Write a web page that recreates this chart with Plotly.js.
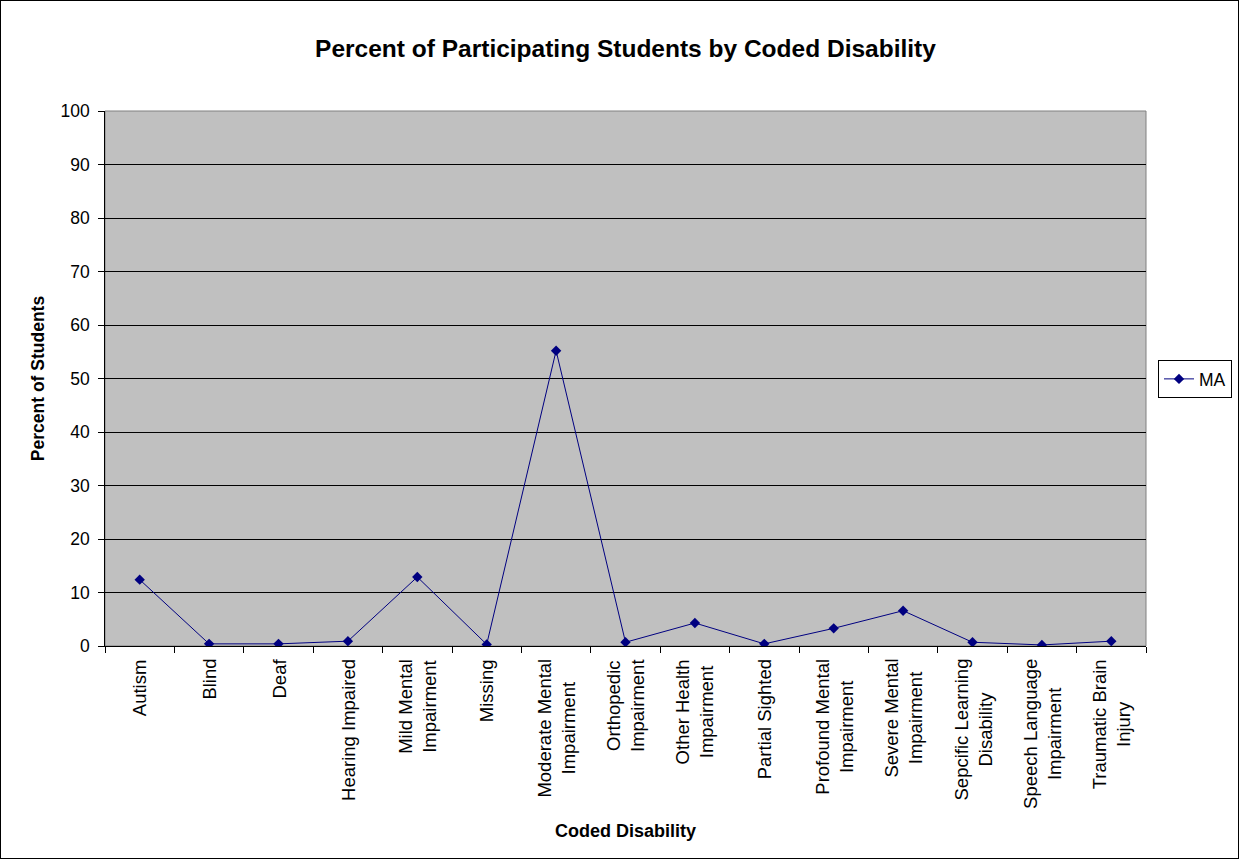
<!DOCTYPE html>
<html>
<head>
<meta charset="utf-8">
<script src="https://cdn.plot.ly/plotly-3.0.1.min.js"></script>
<style>
  html, body { margin: 0; padding: 0; background: #fff; }
  #chart { width: 1237px; height: 857px; border: 1px solid #000; }
</style>
</head>
<body>
<div id="chart"></div>
<script>
const categories = [
  "Autism", "Blind", "Deaf", "Hearing Impaired", "Mild Mental<br>Impairment",
  "Missing", "Moderate Mental<br>Impairment", "Orthopedic<br>Impairment",
  "Other Health<br>Impairment", "Partial Sighted", "Profound Mental<br>Impairment",
  "Severe Mental<br>Impairment", "Sepcific Learning<br>Disability",
  "Speech Language<br>Impairment", "Traumatic Brain<br>Injury"
];
const maValues = [12.4, 0.4, 0.4, 0.9, 12.9, 0.3, 55.2, 0.7, 4.3, 0.4, 3.3, 6.6, 0.7, 0.2, 0.9];
const seriesName = "MA";
const yTickValues = [0, 10, 20, 30, 40, 50, 60, 70, 80, 90, 100];

const font = "Liberation Sans, Arial, sans-serif";

const trace = {
  type: "scatter",
  mode: "lines+markers",
  x: categories,
  y: maValues,
  name: seriesName,
  line: { color: "#000080", width: 1 },
  marker: { color: "#000080", symbol: "diamond", size: 8 }
};

// Category labels: rotated, with the lines of each label centred (as in the reference)
const categoryLabels = categories.map(c => ({
  xref: "x", yref: "paper",
  x: c, y: 0,
  text: c,
  showarrow: false,
  textangle: -90,
  align: "center",
  xanchor: "center", yanchor: "top",
  yshift: -11,
  font: { family: font, size: 18.5, color: "#000" }
}));

const layout = {
  width: 1237,
  height: 857,
  margin: { l: 104, r: 92, t: 110, b: 212 },
  paper_bgcolor: "#ffffff",
  plot_bgcolor: "#c0c0c0",
  font: { family: font, size: 18, color: "#000" },
  title: {
    text: "<b>Percent of Participating Students by Coded Disability</b>",
    font: { family: font, size: 24.5, color: "#000" },
    x: 0.5, xref: "paper", xanchor: "center",
    y: 1 - 47 / 857, yref: "container", yanchor: "middle"
  },
  xaxis: {
    type: "category",
    range: [-0.5, 14.5],
    showline: true, linecolor: "#000", linewidth: 1,
    ticks: "outside", tickson: "boundaries", ticklen: 6, tickcolor: "#000",
    showticklabels: false,
    showgrid: false, zeroline: false,
    automargin: false,
    title: { text: "<b>Coded Disability</b>", font: { family: font, size: 18, color: "#000" }, standoff: 178 }
  },
  yaxis: {
    range: [0, 100],
    tickvals: yTickValues,
    ticktext: yTickValues.map(v => v + "\u00a0"),
    showline: true, linecolor: "#000", linewidth: 1,
    ticks: "outside", ticklen: 6, tickcolor: "#000",
    tickfont: { family: font, size: 17.5, color: "#000" },
    showgrid: true, gridcolor: "#000", gridwidth: 1,
    zeroline: false,
    automargin: false,
    title: { text: "<b>Percent of Students</b>", font: { family: font, size: 17.5, color: "#000" }, standoff: 11 }
  },
  annotations: categoryLabels,
  shapes: [{
    type: "rect", xref: "paper", yref: "paper",
    x0: 0, x1: 1, y0: 0, y1: 1,
    line: { color: "#808080", width: 1 }, layer: "below"
  }],
  showlegend: true,
  legend: {
    xref: "container", yref: "container",
    x: 1157 / 1237, xanchor: "left",
    y: 1 - 378 / 857, yanchor: "middle",
    bgcolor: "#ffffff", bordercolor: "#000", borderwidth: 1,
    font: { family: font, size: 17.5, color: "#000" }
  }
};

Plotly.newPlot("chart", [trace], layout, { displayModeBar: false, staticPlot: true });
</script>
</body>
</html>
